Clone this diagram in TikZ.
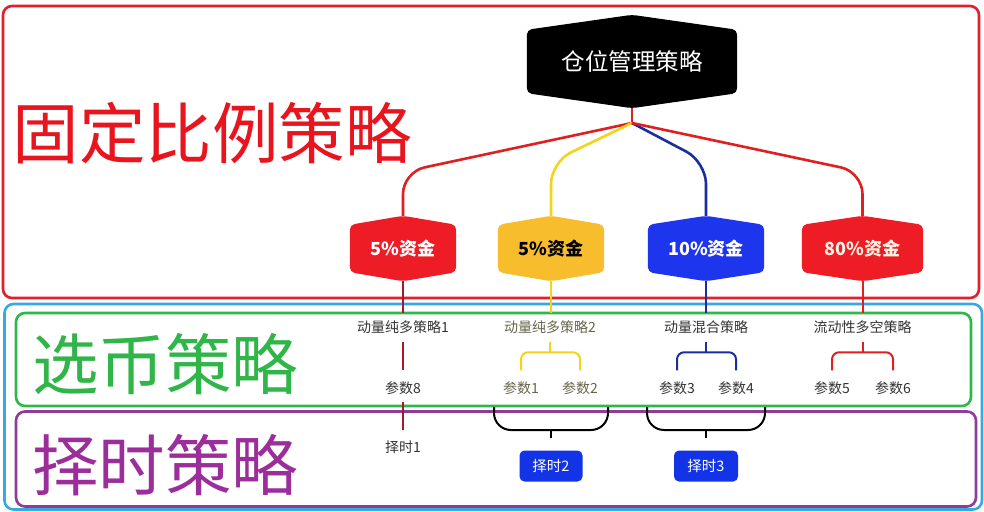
\documentclass[tikz,border=0pt]{standalone}
\usepackage{fontspec}
\setmainfont{Noto Sans CJK SC}
\usetikzlibrary{backgrounds,calc}
\definecolor{boxred}{HTML}{E1202A}
\definecolor{boxcyan}{HTML}{38A9E0}
\definecolor{boxgreen}{HTML}{2DB84A}
\definecolor{boxpurple}{HTML}{8E3C98}
\definecolor{bigred}{HTML}{E8141E}
\definecolor{biggreen}{HTML}{2FB548}
\definecolor{bigpurple}{HTML}{9C2E9C}
\definecolor{fillred}{HTML}{EE1C25}
\definecolor{fillyellow}{HTML}{F8BD2C}
\definecolor{fillblue}{HTML}{1E35EE}
\definecolor{linered}{HTML}{E02020}
\definecolor{lineyellow}{HTML}{F5D21C}
\definecolor{lineblue}{HTML}{1B2E9E}
\definecolor{darkred}{HTML}{A5192A}
\definecolor{txtgray}{HTML}{333333}
\definecolor{txtolive}{HTML}{66664A}
\definecolor{timeblue}{HTML}{1233E6}
\definecolor{cream}{HTML}{FFF2E2}
\newcommand\hexfill[3]{%
  \begin{pgfonlayer}{background}
  \fill[#2, rounded corners=5pt] (#1.north west) -- ([yshift=#3]#1.north) -- (#1.north east) -- (#1.south east) -- ([yshift=-#3]#1.south) -- (#1.south west) -- cycle;
  \end{pgfonlayer}}
\begin{document}
\begin{tikzpicture}[x=1pt,y=-1pt,
  box/.style={line width=2.6pt, rounded corners=9pt},
  big/.style={font=\fontsize{66.5}{72}\selectfont, inner sep=0pt},
  hexn/.style={inner sep=0pt, text=white, minimum height=47pt, font=\fontsize{18}{20}\selectfont\bfseries},
  lbl/.style={font=\fontsize{14}{16}\selectfont, text=txtgray, inner sep=1pt},
  br/.style={line width=2pt, rounded corners=7pt},
  bbr/.style={line width=2pt, rounded corners=17pt},
  conn/.style={line width=2.6pt, rounded corners=22pt},
  stem/.style={line width=2pt},
  tbox/.style={fill=timeblue, rounded corners=5pt, text=white, minimum height=31pt, font=\fontsize{14.5}{16}\selectfont, inner sep=0pt}]

\begin{pgfonlayer}{background}
\fill[white] (0,0) rectangle (984,511);
\end{pgfonlayer}
\useasboundingbox (0,0) rectangle (984,511);

% frames
\draw[box, draw=boxred] (3,6) rectangle (979,298);
\draw[box, draw=boxcyan] (4.5,304) rectangle (982,509.5);
\draw[box, draw=boxgreen] (16,313) rectangle (971,406);
\draw[box, draw=boxpurple] (16,411.5) rectangle (976,506.5);

% big labels
\node[big, text=bigred] (L1) at (212,133) {固定比例策略};
\node[big, text=biggreen] (L2) at (165,364) {选币策略};
\node[big, text=bigpurple] (L3) at (165,465) {择时策略};

% title
\node[inner sep=0pt, text=white, font=\fontsize{23.5}{26}\selectfont, minimum width=210pt, minimum height=63pt] (top) at (632,61.5) {仓位管理策略};
\hexfill{top}{black}{15pt}

% fund nodes
\node[hexn, minimum width=106pt] (n1) at (403,248.5) {5\%资金};
\hexfill{n1}{fillred}{9pt}
\node[hexn, minimum width=106pt, text=black] (n2) at (551,248.5) {5\%资金};
\hexfill{n2}{fillyellow}{9pt}
\node[hexn, minimum width=116pt] (n3) at (706,248.5) {10\%资金};
\hexfill{n3}{fillblue}{9pt}
\node[hexn, minimum width=121pt, text=cream] (n4) at (862.5,248.5) {80\%资金};
\hexfill{n4}{fillred}{9pt}

\coordinate (topb) at ([yshift=-15pt]top.south);
\coordinate (apex) at (632,123);
\foreach \i in {1,2,3,4}{
  \coordinate (n\i t) at ([yshift=9pt]n\i.north);
  \coordinate (n\i b) at ([yshift=-9pt]n\i.south);
}
\coordinate (gtop) at (0,313);

% branches
\draw[line width=2.6pt, linered] (topb) -- (apex);
\draw[conn, linered] (apex) -- (403,172) -- (n1t);
\draw[conn, lineyellow] (apex) -- (551,162) -- (n2t);
\draw[conn, lineblue] (apex) -- (706,162) -- (n3t);
\draw[conn, linered] (apex) -- (862.5,172) -- (n4t);

% down lines
\draw[stem, darkred] (n1b) -- (n1b |- gtop);
\draw[stem, lineyellow] (n2b) -- (n2b |- gtop);
\draw[stem, lineblue] (n3b) -- (n3b |- gtop);
\draw[stem, linered] (n4b) -- (n4b |- gtop);

% strategy labels
\node[lbl] (s1) at (403,327) {动量纯多策略1};
\node[lbl, text=txtolive] (s2) at (550,327) {动量纯多策略2};
\node[lbl] (s3) at (706,327) {动量混合策略};
\node[lbl] (s4) at (862.5,327) {流动性多空策略};

% params
\node[lbl] (p8) at (403,388) {参数8};
\node[lbl, text=txtolive] (p1) at (521,388) {参数1};
\node[lbl, text=txtolive] (p2) at (580,388) {参数2};
\node[lbl] (p3) at (677,388) {参数3};
\node[lbl] (p4) at (736,388) {参数4};
\node[lbl] (p5) at (832,388) {参数5};
\node[lbl] (p6) at (893,388) {参数6};

% brackets strategy -> params
\draw[stem, darkred] ([yshift=-7pt]s1.south) -- ([yshift=10pt]p8.north);
\draw[stem, lineyellow] ([yshift=-7pt]s2.south) -- ++(0,10);
\draw[br, lineyellow] ([yshift=10pt]p1.north) -- ++(0,-18) -| ([yshift=10pt]p2.north);
\draw[stem, lineblue] ([yshift=-7pt]s3.south) -- ++(0,10);
\draw[br, lineblue] ([yshift=10pt]p3.north) -- ++(0,-18) -| ([yshift=10pt]p4.north);
\draw[stem, linered] ([yshift=-7pt]s4.south) -- ++(0,10);
\draw[br, linered] ([yshift=10pt]p5.north) -- ++(0,-18) -| ([yshift=10pt]p6.north);

% timing
\node[lbl] (t1) at (403,447) {择时1};
\node[tbox, minimum width=63pt] (t2) at (551,466) {择时2};
\node[tbox, minimum width=64pt] (t3) at (706,466) {择时3};

\draw[stem, darkred] ([yshift=-6pt]p8.south) -- ([yshift=9pt]t1.north);

\coordinate (b1l) at (494,407);
\coordinate (b1r) at (608,407);
\coordinate (b2l) at (647,407);
\coordinate (b2r) at (765,407);
\draw[bbr, black] (b1l) -- ++(0,23) -- ++(114,0) -- (b1r);
\draw[bbr, black] (b2l) -- ++(0,23) -- ++(118,0) -- (b2r);
\draw[stem, black] ([yshift=12pt]t2.north) -- ++(0,-9);
\draw[stem, black] ([yshift=12pt]t3.north) -- ++(0,-9);
\end{tikzpicture}
\end{document}
